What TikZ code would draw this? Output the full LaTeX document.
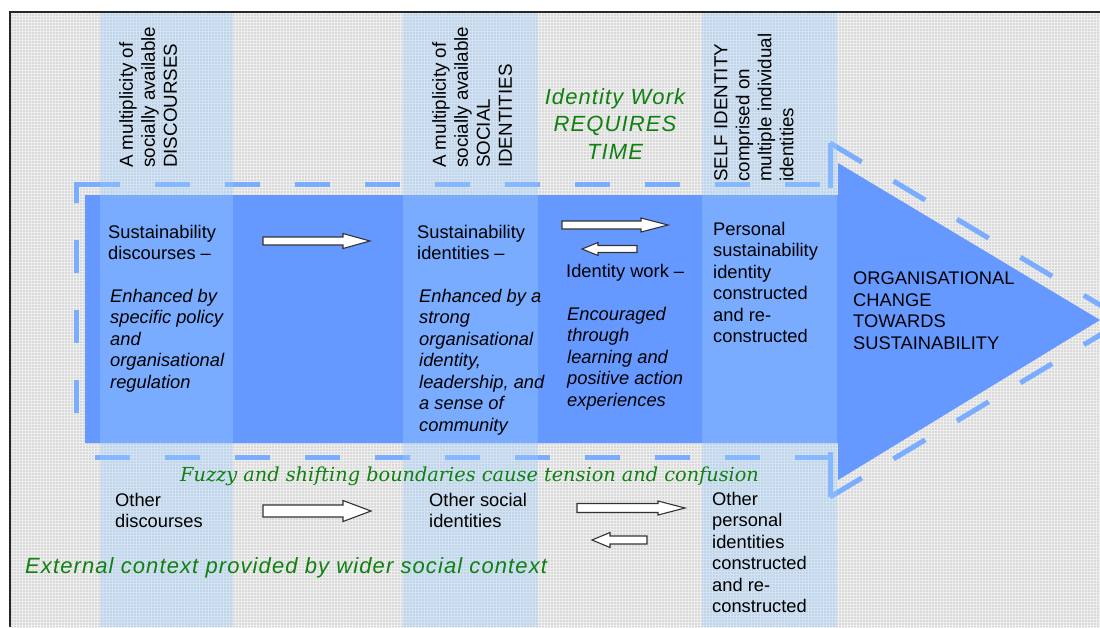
\documentclass[tikz,border=0pt]{standalone}
\usepackage{fontspec}
\setmainfont{Liberation Sans}
\newfontfamily\fuzzyfont{DejaVu Serif}
\newfontfamily\greenfont[LetterSpace=5]{Liberation Sans}
\usetikzlibrary{patterns.meta}

\definecolor{bodyblue}{RGB}{102,153,255}
\definecolor{dashblue}{RGB}{122,172,255}
\definecolor{colblue}{RGB}{156,206,255}
\definecolor{dkgreen}{RGB}{16,128,16}
\definecolor{dotgray}{RGB}{150,150,150}
\definecolor{bggray}{RGB}{238,238,238}

\newcommand\mainsize{\fontsize{18.3}{21.5}\selectfont}
\newcommand\vertsize{\fontsize{18.8}{22}\selectfont}
\newcommand\greensize{\fontsize{22}{27.5}\selectfont}
\newcommand\fuzzysize{\fontsize{19.3}{21}\selectfont}

% white block arrow: tail x, tip x, centre y, half shaft, half head, head length (signed)
\newcommand\blockarr[6]{%
  \draw[barrow] (#1,{#3-#4}) -- ({#2-(#6)},{#3-#4}) -- ({#2-(#6)},{#3-#5}) -- (#2,#3)
    -- ({#2-(#6)},{#3+#5}) -- ({#2-(#6)},{#3+#4}) -- (#1,{#3+#4}) -- cycle;}

\tikzset{
  txt/.style={font=\mainsize, align=left, inner sep=0pt, anchor=north west, text=black},
  txtit/.style={txt, font=\mainsize\itshape},
  vtxt/.style={font=\vertsize, align=left, inner sep=0pt, rotate=90, anchor=north west},
  greenit/.style={font=\greensize\greenfont\itshape, text=dkgreen, inner sep=0pt},
  fuzzytxt/.style={font=\fuzzysize\fuzzyfont\itshape, text=dkgreen, inner sep=0pt},
  barrow/.style={draw=black!80, line width=1.1pt, fill=white, line join=miter},
  outline/.style={dashblue, line width=5pt},
  dashedge/.style={outline, dash pattern=on 35pt off 35pt},
  slopeedge/.style={outline, dash pattern=on 37pt off 37pt},
  column/.style={fill=colblue, fill opacity=0.36},
}

\begin{document}
\begin{tikzpicture}[x=1pt,y=-1pt]
\useasboundingbox (0,0) rectangle (1100,627);
\fill[white] (0,0) rectangle (1100,627);

\begin{scope}
  \clip (10,12) rectangle (1100,627);
  % dotted backdrop
  \fill[bggray] (10,12) rectangle (1100,627);
  \fill[pattern={Dots[radius=0.7pt,distance=3pt]}, pattern color=dotgray] (10,12) rectangle (1100,627);

  % big block arrow
  \fill[bodyblue] (85,195) -- (838,195) -- (838,163) -- (1100,320) -- (838,480)
    -- (838,443) -- (85,443) -- cycle;

  % its broken outline
  \draw[outline] (76,203) -- (76,184) -- (85,184);
  \draw[dashedge] (85,184) -- (830,184);
  \draw[outline] (830,188) -- (830,143);
  \draw[slopeedge] (830,143) -- (1125,320);
  \draw[slopeedge] (830,497) -- (1125,320);
  \draw[outline] (830,497) -- (830,452);
  \draw[dashedge] (830,457) -- (75,457);
  \draw[outline, dash pattern=on 33pt off 37pt] (76,413) -- (76,203);

  % translucent columns
  \fill[column] (100,12) rectangle (233,627);
  \fill[column] (403,12) rectangle (538,627);
  \fill[column] (702,12) rectangle (837,627);
\end{scope}

% frame
\draw[black!85, line width=1.2pt] (10,627) -- (10,12) -- (1100,12);

% column headings
\node[vtxt] (vdisc) at (119,168) {A multiplicity of\\socially available\\DISCOURSES};
\node[vtxt] (vsoc) at (432,168) {A multiplicity of\\socially available\\SOCIAL\\IDENTITIES};
\node[vtxt] (vself) at (714,182) {SELF IDENTITY\\comprised on\\multiple individual\\identities};
\node[greenit, align=center, anchor=north] (iwtime) at (615,88) {Identity Work\\REQUIRES\\TIME};

% inside the arrow
\node[txt] (disc) at (108,225) {Sustainability\\discourses –};
\node[txtit] (discit) at (110,289) {Enhanced by\\specific policy\\and\\organisational\\regulation};
\node[txt] (ident) at (417,225) {Sustainability\\identities –};
\node[txtit] (identit) at (419,289) {Enhanced by a\\strong\\organisational\\identity,\\leadership, and\\a sense of\\community};
\node[txt] (iwork) at (566,264) {Identity work –};
\node[txtit] (iworkit) at (567,307) {Encouraged\\through\\learning and\\positive action\\experiences};
\node[txt] (pers) at (713,222) {Personal\\sustainability\\identity\\constructed\\and re-\\constructed};
\node[txt] (org) at (853,272) {ORGANISATIONAL\\CHANGE\\TOWARDS\\SUSTAINABILITY};

% below the arrow
\node[fuzzytxt, anchor=west] (fuzzy) at (180,476) {Fuzzy and shifting boundaries cause tension and confusion};
\node[txt] (odisc) at (115,493) {Other\\discourses};
\node[txt] (osoc) at (429,493) {Other social\\identities};
\node[txt] (opers) at (712,492) {Other\\personal\\identities\\constructed\\and re-\\constructed};
\node[greenit, anchor=west] (ext) at (25,568) {External context provided by wider social context};

% white block arrows
\blockarr{263}{370}{241}{4}{7.5}{27}
\blockarr{562}{668}{225}{4}{7}{27}
\blockarr{637}{582}{249}{3.5}{6.5}{-16}
\blockarr{263}{371}{511}{6}{10.5}{28}
\blockarr{577}{685}{508}{4.5}{7}{27}
\blockarr{647}{592}{540}{4}{7.5}{-18}
\end{tikzpicture}
\end{document}
